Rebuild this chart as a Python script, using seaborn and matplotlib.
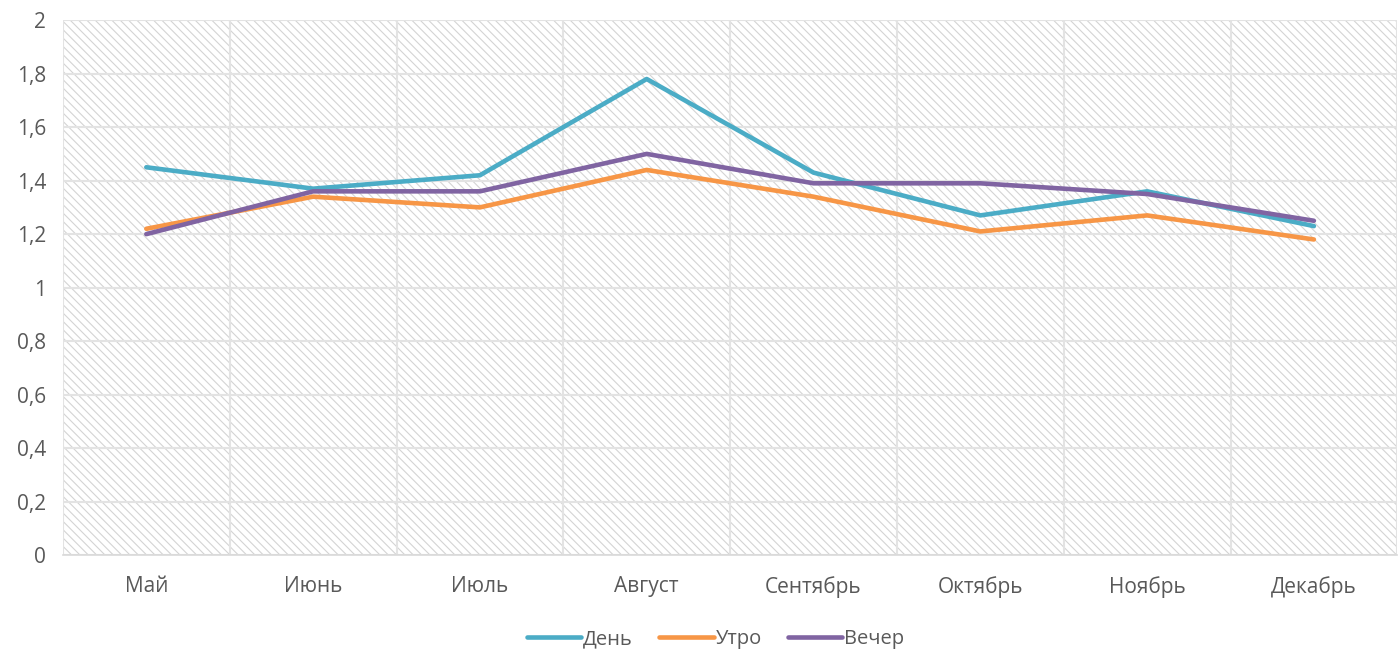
import pandas as pd
import seaborn as sns
import matplotlib.pyplot as plt
from matplotlib.patches import Rectangle
from matplotlib.ticker import FuncFormatter

months = ['Май', 'Июнь', 'Июль', 'Август', 'Сентябрь', 'Октябрь', 'Ноябрь', 'Декабрь']
den = [1.45, 1.37, 1.42, 1.78, 1.43, 1.27, 1.36, 1.23]
utro = [1.22, 1.34, 1.30, 1.44, 1.34, 1.21, 1.27, 1.18]
vecher = [1.20, 1.36, 1.36, 1.50, 1.39, 1.39, 1.35, 1.25]
series = ['День', 'Утро', 'Вечер']
colors = ['#4BACC6', '#F79646', '#8064A2']

df = pd.DataFrame({'month': months * 3,
                   'value': den + utro + vecher,
                   'series': [s for s in series for _ in months]})
df['x'] = df.groupby('series').cumcount()

sns.set_style('white')
plt.rcParams['font.family'] = ['Open Sans', 'DejaVu Sans']
plt.rcParams['hatch.linewidth'] = 0.8

fig = plt.figure(figsize=(13.98, 6.5), dpi=100)
ax = fig.add_axes([0.045, 0.146, 0.9545, 0.823])

# hatched plot-area background
ax.add_patch(Rectangle((0, 0), 1, 1, transform=ax.transAxes, facecolor='white',
                       edgecolor='#D4D4D4', hatch='\\\\\\\\', lw=0, zorder=0))

sns.lineplot(data=df, x='x', y='value', hue='series', hue_order=series,
             palette=colors, linewidth=3.3, ax=ax, zorder=3, legend=False)

ax.set_xlim(-0.5, 7.5)
ax.set_ylim(0, 2)
ax.set_yticks([i * 0.2 for i in range(11)])
ax.yaxis.set_major_formatter(FuncFormatter(lambda v, p: f'{v:.1f}'.rstrip('0').rstrip('.').replace('.', ',')))
ax.set_xticks(range(len(months)))
ax.set_xticklabels(months)
ax.set_xticks([i - 0.5 for i in range(len(months) + 1)], minor=True)

ax.grid(False)
ax.yaxis.grid(True, color='#E3E3E3', lw=1.5, zorder=1)
ax.xaxis.grid(True, which='minor', color='#E3E3E3', lw=1.5, zorder=1)
ax.set_axisbelow(True)
ax.tick_params(axis='both', which='both', length=0, labelsize=15, labelcolor='#595959')
ax.tick_params(axis='x', pad=15)
ax.tick_params(axis='y', pad=12)
for s in ['top', 'right', 'left']:
    ax.spines[s].set_visible(False)
ax.spines['bottom'].set_color('#D9D9D9')
ax.spines['bottom'].set_linewidth(1.2)
ax.set_xlabel('')
ax.set_ylabel('')

handles = [plt.Line2D([], [], color=c, lw=3.3, solid_capstyle='round') for c in colors]
fig.legend(handles, series, loc='center', bbox_to_anchor=(0.512, 0.017), ncol=3, frameon=False,
           fontsize=14.5, labelcolor='#595959', handlelength=2.7, handletextpad=0.1, columnspacing=1.3)

fig.savefig('out.png', dpi=100)
